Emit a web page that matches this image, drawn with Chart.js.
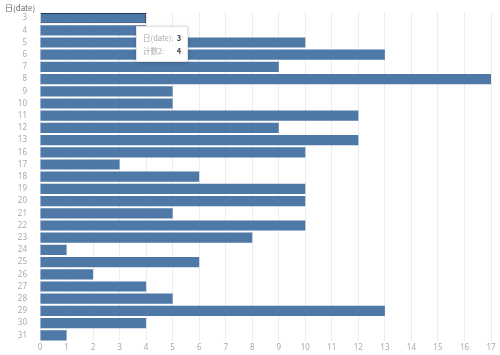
<!DOCTYPE html>
<html><head><meta charset="utf-8">
<script src="https://cdn.jsdelivr.net/npm/chart.js@4/dist/chart.umd.min.js"></script>
<style>
html,body{margin:0;padding:0;background:#fff;}
#wrap{position:relative;width:500px;height:355px;}
#title{position:absolute;left:5px;top:2px;font:8px "Noto Sans CJK SC","Noto Sans",sans-serif;color:#666;}
#tip{position:absolute;background:#fff;border:1px solid #e2e2e2;box-shadow:0 1px 4px rgba(0,0,0,0.2);padding:4px 6px;font:7.5px "Noto Sans CJK SC","Noto Sans",sans-serif;color:#aaa;line-height:13px;display:none;width:38px;}
#tip b{color:#444;float:right;}
</style></head>
<body><div id="wrap"><canvas id="c" width="500" height="355"></canvas><div id="title">日(date)</div><div id="tip"></div></div>
<script>
const categories = ["3","4","5","6","7","8","9","10","11","12","13","16","17","18","19","20","21","22","23","24","25","26","27","28","29","30","31"];
const values = [4,4,10,13,9,17,5,5,12,9,12,10,3,6,10,10,5,10,8,1,6,2,4,5,13,4,1];
const xTicks = [0,1,2,3,4,5,6,7,8,9,10,11,12,13,14,15,16,17];
const seriesName = "计数2";
const dimName = "日(date)";
const activeIndex = 0;

const tipEl = document.getElementById('tip');
const chart = new Chart(document.getElementById('c'), {
  type: 'bar',
  data: { labels: categories, datasets: [{ label: seriesName, data: values,
    backgroundColor: '#4e79a7', borderColor: '#1f3550',
    borderWidth: ctx => ctx.dataIndex === activeIndex ? 1 : 0,
    barPercentage: 0.84, categoryPercentage: 1 }] },
  options: {
    indexAxis: 'y', responsive: false, animation: false,
    layout: { padding: { left: 0, right: 9, top: 12, bottom: 0 } },
    plugins: { legend: { display: false }, tooltip: { enabled: false } },
    scales: {
      x: { min: 0, max: 17, afterBuildTicks: s => { s.ticks = xTicks.map(v => ({value: v})); },
        grid: { color: '#ececec', drawTicks: false }, border: { display: false },
        ticks: { color: '#aaa', font: { size: 8, family: 'Noto Sans' }, padding: 2 } },
      y: { grid: { display: false }, border: { display: false },
        afterFit: s => { s.width = 40; },
        ticks: { color: '#aaa', font: { size: 8, family: 'Noto Sans' }, padding: 5, autoSkip: false } }
    }
  }
});
const el = chart.getDatasetMeta(0).data[activeIndex];
tipEl.innerHTML = '<div>' + dimName + ':<b>' + categories[activeIndex] + '</b></div><div>' + seriesName + ':<b>' + values[activeIndex] + '</b></div>';
tipEl.style.display = 'block';
tipEl.style.left = (el.x - 10) + 'px';
tipEl.style.top = (el.y + 8) + 'px';
</script></body></html>
